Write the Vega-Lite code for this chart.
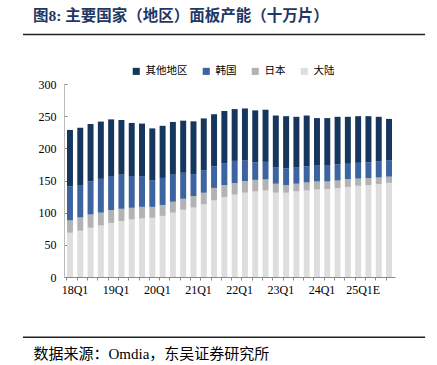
{
  "$schema": "https://vega.github.io/schema/vega-lite/v6.json",
  "width": 331,
  "height": 193,
  "autosize": {"type": "none"},
  "padding": {"left": 64, "top": 84, "right": 42, "bottom": 88},
  "background": "white",
  "config": {
    "view": {"stroke": null},
    "axisY": {
      "tickCount": 7,
      "grid": false,
      "title": null,
      "tickSize": -3,
      "tickColor": "#888888",
      "domainColor": "#BBBBBB",
      "labelPadding": 11,
      "labelFont": "'Liberation Serif', 'Noto Sans CJK SC'",
      "labelFontSize": 12,
      "labelColor": "#000000"
    }
  },
  "title": {
    "text": "图8:  主要国家（地区）面板产能（十万片）",
    "anchor": "start",
    "frame": "group",
    "dx": -31,
    "offset": 9,
    "fontSize": 15.5,
    "font": "'Liberation Serif', 'Noto Sans CJK SC'",
    "fontWeight": "bold",
    "color": "#1F3864"
  },
  "layer": [
    {
      "data": {
        "values": [
          {"q": "18Q1", "大陆": 68.8, "日本": 19.2, "韩国": 52.7, "其他地区": 87.9},
          {"q": "18Q2", "大陆": 72.0, "日本": 20.6, "韩国": 50.4, "其他地区": 89.0},
          {"q": "18Q3", "大陆": 76.6, "日本": 20.4, "韩国": 52.0, "其他地区": 89.0},
          {"q": "18Q4", "大陆": 80.0, "日本": 20.0, "韩国": 52.6, "其他地区": 89.0},
          {"q": "19Q1", "大陆": 84.0, "日本": 20.0, "韩国": 53.0, "其他地区": 88.0},
          {"q": "19Q2", "大陆": 87.0, "日本": 19.0, "韩国": 53.0, "其他地区": 85.0},
          {"q": "19Q3", "大陆": 89.5, "日本": 18.1, "韩国": 49.4, "其他地区": 82.5},
          {"q": "19Q4", "大陆": 91.0, "日本": 18.0, "韩国": 47.0, "其他地区": 82.5},
          {"q": "20Q1", "大陆": 92.0, "日本": 17.0, "韩国": 41.5, "其他地区": 80.5},
          {"q": "20Q2", "大陆": 95.0, "日本": 17.0, "韩国": 42.0, "其他地区": 81.0},
          {"q": "20Q3", "大陆": 100.0, "日本": 17.0, "韩国": 42.0, "其他地区": 82.0},
          {"q": "20Q4", "大陆": 104.5, "日本": 17.1, "韩国": 40.4, "其他地区": 81.0},
          {"q": "21Q1", "大陆": 108.0, "日本": 17.7, "韩国": 34.3, "其他地区": 82.0},
          {"q": "21Q2", "大陆": 113.0, "日本": 18.0, "韩国": 34.5, "其他地区": 81.0},
          {"q": "21Q3", "大陆": 119.0, "日本": 19.5, "韩国": 33.5, "其他地区": 81.0},
          {"q": "21Q4", "大陆": 124.0, "日本": 19.0, "韩国": 34.0, "其他地区": 81.0},
          {"q": "22Q1", "大陆": 128.0, "日本": 18.0, "韩国": 34.5, "其他地区": 80.5},
          {"q": "22Q2", "大陆": 131.0, "日本": 18.0, "韩国": 32.0, "其他地区": 81.0},
          {"q": "22Q3", "大陆": 133.0, "日本": 18.0, "韩国": 27.0, "其他地区": 81.0},
          {"q": "22Q4", "大陆": 134.5, "日本": 17.1, "韩国": 27.4, "其他地区": 81.0},
          {"q": "23Q1", "大陆": 131.0, "日本": 14.0, "韩国": 25.0, "其他地区": 81.0},
          {"q": "23Q2", "大陆": 131.0, "日本": 12.0, "韩国": 26.0, "其他地区": 81.0},
          {"q": "23Q3", "大陆": 133.0, "日本": 12.0, "韩国": 25.0, "其他地区": 79.0},
          {"q": "23Q4", "大陆": 134.5, "日本": 12.5, "韩国": 25.0, "其他地区": 79.0},
          {"q": "24Q1", "大陆": 136.0, "日本": 12.5, "韩国": 24.5, "其他地区": 74.0},
          {"q": "24Q2", "大陆": 136.6, "日本": 11.9, "韩国": 24.5, "其他地区": 74.0},
          {"q": "24Q3", "大陆": 138.0, "日本": 12.0, "韩国": 25.0, "其他地区": 74.0},
          {"q": "24Q4", "大陆": 140.0, "日本": 12.0, "韩国": 24.0, "其他地区": 73.0},
          {"q": "25Q1E", "大陆": 141.7, "日本": 11.3, "韩国": 24.5, "其他地区": 72.5},
          {"q": "25Q2E", "大陆": 142.8, "日本": 10.8, "韩国": 24.4, "其他地区": 72.0},
          {"q": "25Q3E", "大陆": 144.3, "日本": 10.4, "韩国": 24.8, "其他地区": 69.5},
          {"q": "25Q4E", "大陆": 146.4, "日本": 9.6, "韩国": 25.0, "其他地区": 64.7}
        ]
      },
      "transform": [
        {"fold": ["大陆", "日本", "韩国", "其他地区"], "as": ["region", "value"]},
        {"calculate": "indexof(['大陆', '日本', '韩国', '其他地区'], datum.region)", "as": "o"}
      ],
      "mark": {"type": "bar"},
      "encoding": {
        "x": {
          "field": "q",
          "type": "nominal",
          "sort": null,
          "scale": {"paddingInner": 0.42, "paddingOuter": 0.29},
          "axis": {
            "orient": "bottom",
            "labelAngle": 0,
            "labelExpr": "indexof(datum.value, 'Q1') > 0 ? datum.value : ''",
            "bandPosition": 0,
            "labelOffset": 5,
            "tickSize": 3,
            "tickColor": "#888888",
            "domainColor": "#888888",
            "labelFont": "'Liberation Serif', 'Noto Sans CJK SC'",
            "labelFontSize": 12,
            "labelColor": "#000000",
            "labelPadding": 4,
            "title": "数据来源：Omdia，东吴证券研究所",
            "titleX": -31,
            "titleY": 76,
            "titleAlign": "left",
            "titleAnchor": "start",
            "titleBaseline": "middle",
            "titleFont": "'Liberation Serif', 'Noto Sans CJK SC'",
            "titleFontSize": 15,
            "titleFontWeight": "normal",
            "titleColor": "#000000"
          }
        },
        "y": {
          "field": "value",
          "type": "quantitative",
          "stack": "zero",
          "scale": {"domain": [0, 300], "nice": false}
        },
        "color": {
          "field": "region",
          "type": "nominal",
          "scale": {
            "domain": ["其他地区", "韩国", "日本", "大陆"],
            "range": ["#17365D", "#3B64A0", "#B3B3B3", "#DEDEDE"]
          },
          "legend": {
            "title": null,
            "orient": "none",
            "legendX": 67,
            "legendY": -18,
            "direction": "horizontal",
            "symbolType": "square",
            "symbolSize": 50,
            "symbolStrokeWidth": 0,
            "labelFont": "'Noto Sans CJK SC'",
            "labelFontSize": 10.5,
            "labelColor": "#000000",
            "columnPadding": 13
          }
        },
        "order": {"field": "o", "type": "quantitative", "sort": "ascending"}
      }
    },
    {
      "data": {"values": [{}]},
      "mark": {"type": "rule", "strokeWidth": 1.4, "color": "#222222"},
      "encoding": {
        "y": {"datum": 376.9, "type": "quantitative", "scale": {"domain": [0, 300], "nice": false}},
        "x": {"datum": -0.124, "type": "quantitative", "scale": {"domain": [0, 1], "nice": false, "zero": false}, "axis": null},
        "x2": {"datum": 1.091}
      }
    },
    {
      "data": {"values": [{}]},
      "mark": {"type": "rule", "strokeWidth": 1.4, "color": "#222222"},
      "encoding": {
        "y": {"datum": -93.7, "type": "quantitative", "scale": {"domain": [0, 300], "nice": false}},
        "x": {"datum": -0.124, "type": "quantitative", "scale": {"domain": [0, 1], "nice": false, "zero": false}, "axis": null},
        "x2": {"datum": 1.091}
      }
    }
  ],
  "resolve": {"scale": {"x": "independent"}}
}
